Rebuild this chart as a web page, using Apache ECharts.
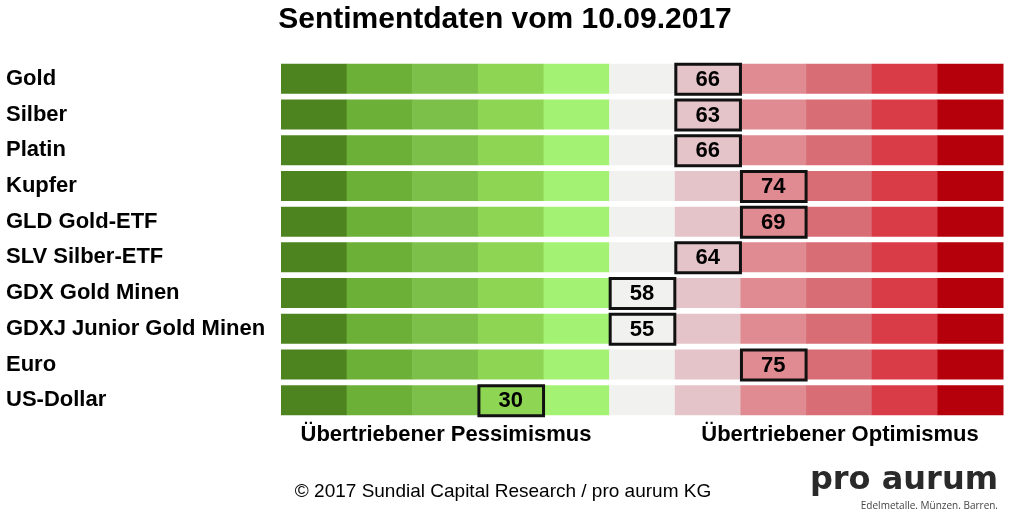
<!DOCTYPE html>
<html>
<head>
<meta charset="utf-8">
<title>Sentimentdaten</title>
<script src="https://cdn.jsdelivr.net/npm/echarts@6/dist/echarts.min.js"></script>
<style>
  html, body { margin: 0; padding: 0; background: #fff; }
  #chart { width: 1010px; height: 515px; }
</style>
</head>
<body>
<div id="chart"></div>
<script>
// Zeilen (Anlageklassen)
const rows = ['Gold', 'Silber', 'Platin', 'Kupfer', 'GLD Gold-ETF', 'SLV Silber-ETF',
  'GDX Gold Minen', 'GDXJ Junior Gold Minen', 'Euro', 'US-Dollar'];
// Sentimentwerte
const scores = [66, 63, 66, 74, 69, 64, 58, 55, 75, 30];
// Feld (0-10), in dem der Wert markiert ist
const zones = [6, 6, 6, 7, 7, 6, 5, 5, 7, 3];
// Farbskala von Pessimismus (grün) bis Optimismus (rot)
const zoneColors = ['#4e8420', '#6cb037', '#7cc04a', '#8dd553', '#a3f273', '#f1f1ef',
  '#e5c4c9', '#e08b91', '#d96d76', '#da3c47', '#b5000b'];

const font = 'Liberation Sans, Arial, sans-serif';

// alle Felder als [Spalte, Zeile]
const cells = [];
rows.forEach((name, r) => {
  zoneColors.forEach((c, i) => cells.push([i, r]));
});
const marks = rows.map((name, r) => [zones[r], r, scores[r]]);

const myChart = echarts.init(document.getElementById('chart'));
const option = {
  animation: false,
  title: {
    text: 'Sentimentdaten vom 10.09.2017',
    left: 'center',
    top: 0,
    textStyle: { fontFamily: font, fontSize: 30, fontWeight: 'bold', color: '#000' }
  },
  grid: { left: 281, right: 7, top: 61, height: 357 },
  xAxis: {
    type: 'value', min: 0, max: zoneColors.length,
    show: false
  },
  yAxis: {
    type: 'category',
    data: rows,
    inverse: true,
    axisLine: { show: false },
    axisTick: { show: false },
    splitLine: { show: false },
    axisLabel: {
      align: 'left',
      margin: 275,
      padding: [4, 0, 0, 0],
      fontFamily: font,
      fontSize: 22,
      fontWeight: 'bold',
      color: '#000'
    }
  },
  series: [
    {
      type: 'custom',
      data: cells,
      encode: { x: 0, y: 1 },
      renderItem: function (params, api) {
        const p = api.coord([api.value(0), api.value(1)]);
        const w = api.size([1, 0])[0];
        const h = api.size([0, 1])[1] * 0.84;
        return {
          type: 'rect',
          shape: { x: p[0], y: p[1] - h / 2, width: w + 0.5, height: h },
          style: { fill: zoneColors[api.value(0)] }
        };
      },
      z: 1
    },
    {
      type: 'custom',
      data: marks,
      encode: { x: 0, y: 1 },
      renderItem: function (params, api) {
        const p = api.coord([api.value(0), api.value(1)]);
        const w = api.size([1, 0])[0];
        const h = api.size([0, 1])[1] * 0.84;
        return {
          type: 'group',
          children: [
            {
              type: 'rect',
              shape: { x: p[0] + 1, y: p[1] - h / 2 + 0.5, width: w - 1, height: h },
              style: { fill: 'none', stroke: '#111', lineWidth: 3 }
            },
            {
              type: 'text',
              x: p[0] + w / 2,
              y: p[1] + 1,
              style: {
                text: String(api.value(2)),
                align: 'center',
                verticalAlign: 'middle',
                fontFamily: font,
                fontSize: 22,
                fontWeight: 'bold',
                fill: '#000'
              }
            }
          ]
        };
      },
      z: 2
    }
  ],
  graphic: [
    {
      type: 'text', x: 446, y: 435,
      style: { text: 'Übertriebener Pessimismus', align: 'center', verticalAlign: 'middle',
        fontFamily: font, fontSize: 22, fontWeight: 'bold', fill: '#000' }
    },
    {
      type: 'text', x: 840, y: 435,
      style: { text: 'Übertriebener Optimismus', align: 'center', verticalAlign: 'middle',
        fontFamily: font, fontSize: 22, fontWeight: 'bold', fill: '#000' }
    },
    {
      type: 'text', x: 503, y: 492,
      style: { text: '© 2017 Sundial Capital Research / pro aurum KG', align: 'center', verticalAlign: 'middle',
        fontFamily: font, fontSize: 19, fill: '#000' }
    },
    {
      type: 'text', x: 998, y: 481,
      style: { text: 'pro aurum', align: 'right', verticalAlign: 'middle',
        fontFamily: 'DejaVu Sans, sans-serif', fontSize: 32, fontWeight: 'bold', fill: '#2a2a2a' }
    },
    {
      type: 'text', x: 998, y: 506,
      style: { text: 'Edelmetalle. Münzen. Barren.', align: 'right', verticalAlign: 'middle',
        fontFamily: 'Open Sans, sans-serif', fontSize: 10, fill: '#444' }
    }
  ]
};
myChart.setOption(option);
</script>
</body>
</html>
